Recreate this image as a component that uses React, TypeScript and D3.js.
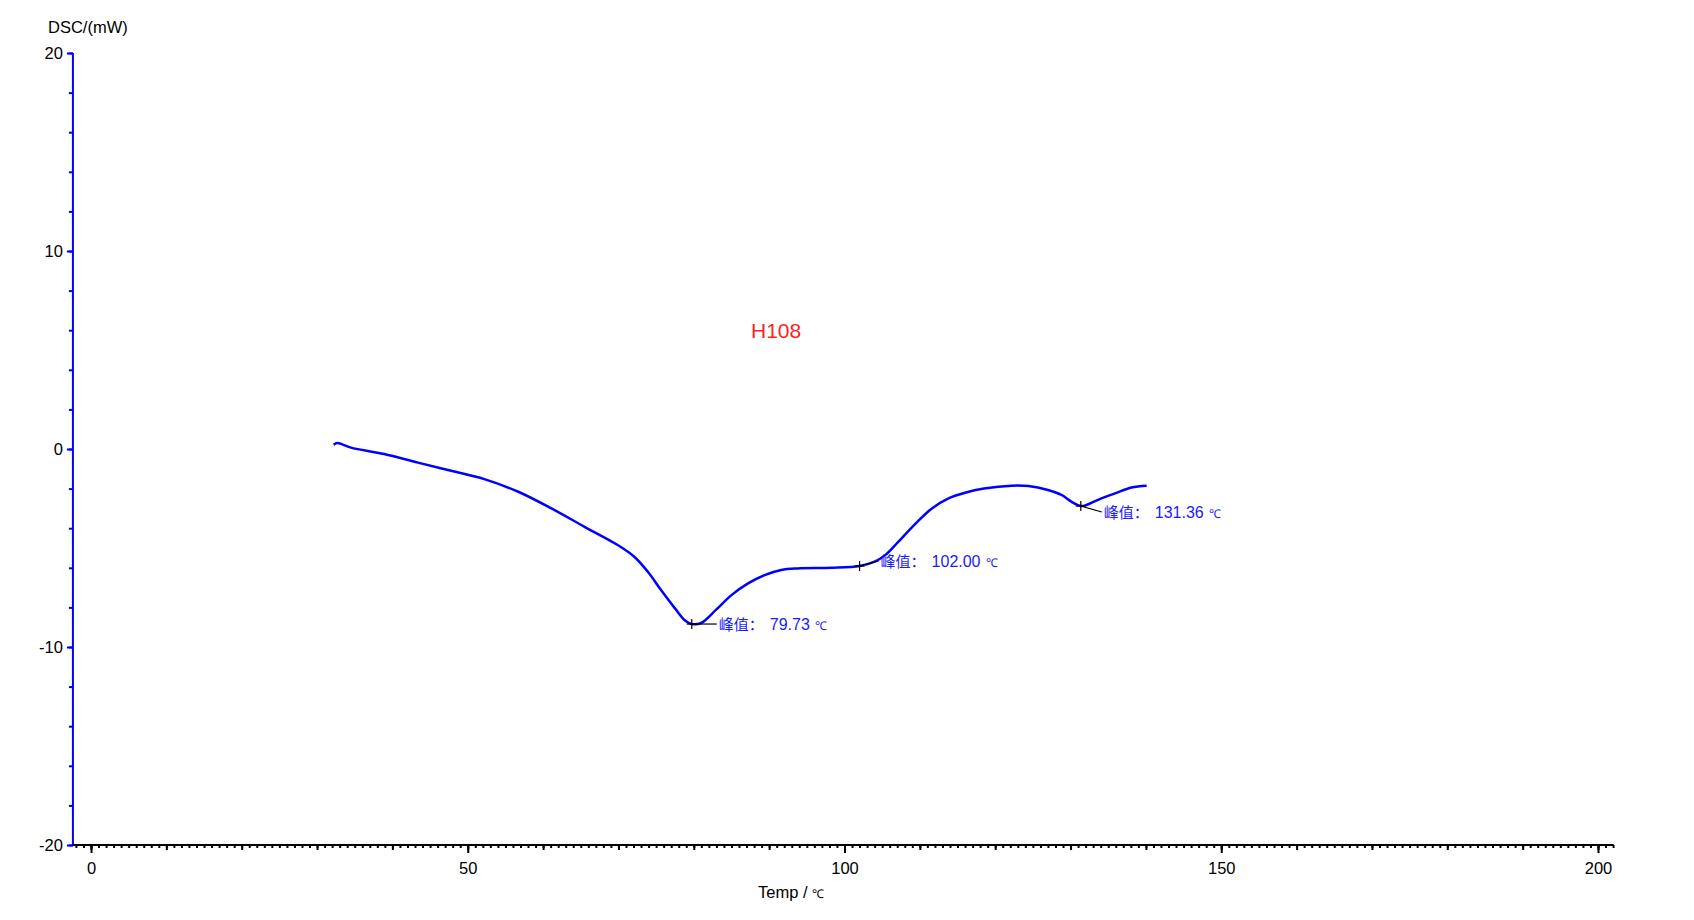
import React, { useEffect, useRef } from "react";
import * as d3 from "d3";

// DSC curve (temperature in °C, heat flow in mW)
const temps = [
  32.2, 32.7, 34.5, 38.9, 43.4, 47.8, 52.2, 56.7, 61.1, 65.5, 69.9, 72.1,
  73.9, 75.7, 77.5, 78.8, 79.7, 81.0, 83.0, 85.0, 87.2, 89.4, 91.6, 93.8,
  98.3, 102.0, 104.0, 105.4, 107.1, 109.4, 111.6, 113.8, 116.0, 118.5,
  122.2, 124.4, 127.0, 128.8, 130.1, 131.4, 132.1, 134.1, 135.9, 138.1, 140.1,
];
const dsc = [
  0.22, 0.3, 0.07, -0.25, -0.69, -1.1, -1.52, -2.16, -3.0, -3.93, -4.85, -5.44,
  -6.2, -7.15, -8.05, -8.65, -8.84, -8.78, -8.1, -7.38, -6.79, -6.37, -6.11,
  -6.03, -6.0, -5.91, -5.69, -5.36, -4.7, -3.78, -3.0, -2.49, -2.21, -2.0,
  -1.85, -1.87, -2.07, -2.32, -2.66, -2.88, -2.83, -2.49, -2.24, -1.94, -1.85,
];

// marked peaks
const peakTemps = [79.73, 102.0, 131.36];
const peakValues = [-8.84, -5.91, -2.88];
const peakLabels = ["79.73", "102.00", "131.36"];

const xMajor = [0, 50, 100, 150, 200];
const yMajor = [-20, -10, 0, 10, 20];

const sampleName = "H108";

const width = 1694;
const height = 920;
const font = "'Liberation Sans', Arial, sans-serif";

// where each peak label sits relative to its cross (px)
const labelOffsets: [number, number][] = [
  [27, 0],
  [21, -5],
  [23, 6],
];

const App: React.FC = () => {
  const svgRef = useRef<SVGSVGElement | null>(null);

  useEffect(() => {
    const svg = d3.select(svgRef.current);
    svg.selectAll("*").remove();

    const x = d3.scaleLinear().domain([0, 200]).range([91, 1598]);
    const y = d3.scaleLinear().domain([-20, 20]).range([845, 53]);

    const xLeft = x(-2.4);
    const xRight = x(202.1);

    // x axis: three tick levels
    const xLevels: { values: number[]; size: number }[] = [
      { values: d3.range(-2, 203, 1), size: 3 },
      { values: d3.range(0, 201, 10), size: 5 },
      { values: xMajor, size: 8 },
    ];
    xLevels.forEach((lvl, i) => {
      const g = svg
        .append("g")
        .attr("transform", `translate(0, ${y(-20)})`)
        .call(
          d3
            .axisBottom(x)
            .tickValues(lvl.values)
            .tickSize(lvl.size)
            .tickSizeOuter(0)
            .tickPadding(6)
            .tickFormat(i === 2 ? (d) => String(d) : () => "")
        );
      g.select(".domain").remove();
      g.selectAll("line").attr("stroke", "#000").attr("stroke-width", 2);
      g.selectAll("text")
        .attr("fill", "#000")
        .attr("font-family", font)
        .attr("font-size", 16.5)
        .attr("dy", "0.9em");
    });

    // y axis: two tick levels
    const yLevels: { values: number[]; size: number }[] = [
      { values: d3.range(-20, 21, 2), size: 4 },
      { values: yMajor, size: 6 },
    ];
    yLevels.forEach((lvl, i) => {
      const g = svg
        .append("g")
        .attr("transform", `translate(${xLeft}, 0)`)
        .call(
          d3
            .axisLeft(y)
            .tickValues(lvl.values)
            .tickSize(lvl.size)
            .tickSizeOuter(0)
            .tickPadding(4)
            .tickFormat(i === 1 ? (d) => String(d) : () => "")
        );
      g.select(".domain").remove();
      g.selectAll("line").attr("stroke", "#0000ff").attr("stroke-width", 2);
      g.selectAll("text")
        .attr("fill", "#000")
        .attr("font-family", font)
        .attr("font-size", 16.5);
    });

    // axis lines
    svg
      .append("line")
      .attr("x1", xLeft)
      .attr("x2", xRight)
      .attr("y1", y(-20))
      .attr("y2", y(-20))
      .attr("stroke", "#000")
      .attr("stroke-width", 2);
    svg
      .append("line")
      .attr("x1", xLeft)
      .attr("x2", xLeft)
      .attr("y1", y(20))
      .attr("y2", y(-20))
      .attr("stroke", "#0000ff")
      .attr("stroke-width", 2);

    // axis titles
    svg
      .append("text")
      .attr("x", 48)
      .attr("y", 33)
      .attr("font-family", font)
      .attr("font-size", 16.5)
      .attr("fill", "#000")
      .text("DSC/(mW)");

    const xt = svg
      .append("text")
      .attr("x", 758)
      .attr("y", 898)
      .attr("font-family", font)
      .attr("font-size", 16.5)
      .attr("fill", "#000");
    xt.append("tspan").text("Temp / ");
    xt.append("tspan").attr("font-size", 12).text("℃");

    // sample name
    svg
      .append("text")
      .attr("x", 751)
      .attr("y", 338)
      .attr("font-family", font)
      .attr("font-size", 21)
      .attr("fill", "#ff1f1f")
      .text(sampleName);

    // curve
    const pts: [number, number][] = temps.map((t, i) => [t, dsc[i]]);
    const line = d3
      .line<[number, number]>()
      .x((d) => x(d[0]))
      .y((d) => y(d[1]))
      .curve(d3.curveCatmullRom.alpha(0.5));
    svg
      .append("path")
      .datum(pts)
      .attr("d", line)
      .attr("fill", "none")
      .attr("stroke", "#0000ff")
      .attr("stroke-width", 2.5)
      .attr("stroke-linejoin", "round");

    // peak marks
    peakTemps.forEach((t, i) => {
      const cx = x(t);
      const cy = y(peakValues[i]);
      const [dx, dy] = labelOffsets[i];
      const g = svg.append("g");
      g.append("line")
        .attr("x1", cx - 5)
        .attr("x2", cx + 5)
        .attr("y1", cy)
        .attr("y2", cy)
        .attr("stroke", "#000")
        .attr("stroke-width", 1.2);
      g.append("line")
        .attr("x1", cx)
        .attr("x2", cx)
        .attr("y1", cy - 5)
        .attr("y2", cy + 5)
        .attr("stroke", "#000")
        .attr("stroke-width", 1.2);
      g.append("line")
        .attr("x1", cx)
        .attr("x2", cx + dx - 2)
        .attr("y1", cy)
        .attr("y2", cy + dy)
        .attr("stroke", "#000")
        .attr("stroke-width", 1.2);
      const txt = g
        .append("text")
        .attr("x", cx + dx)
        .attr("y", cy + dy)
        .attr("dy", "0.36em")
        .attr("font-family", font)
        .attr("font-size", 16)
        .attr("fill", "#1a1aff");
      txt
        .append("tspan")
        .attr("font-family", "'Noto Sans CJK SC', sans-serif")
        .attr("font-size", 15)
        .text("峰值：");
      txt.append("tspan").attr("dx", 6).text(peakLabels[i]);
      txt.append("tspan").attr("dx", 5).attr("font-size", 12).text("℃");
    });
  }, []);

  return (
    <svg
      ref={svgRef}
      width={width}
      height={height}
      style={{ position: "absolute", left: 0, top: 0, background: "#fff" }}
    />
  );
};

export default App;
